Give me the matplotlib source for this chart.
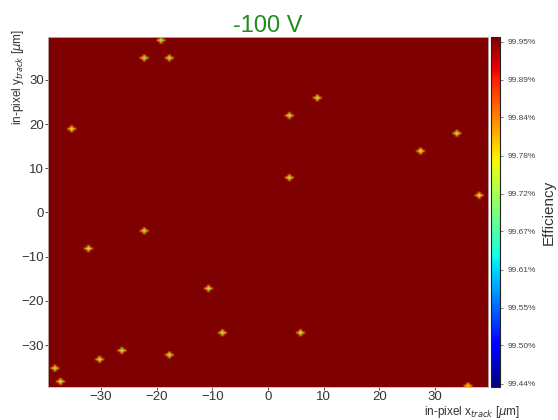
import numpy as np
import matplotlib
matplotlib.use("Agg")
import matplotlib.pyplot as plt

plt.rcParams['font.family'] = ['Liberation Sans', 'DejaVu Sans']

# ---- data ----
title = "-100 V"
x_range = [-40.0, 40.0]
y_range = [-40.0, 40.0]
bin_size = 0.5
base_eff = 100.0
# low-efficiency spots (centre position in um, centre efficiency, rim efficiency in %)
spot_x = [-19.5, -22.4, -17.6, -35.5, 8.6, 3.6, 33.5, 27.4, 3.6, 37.5,
          -22.4, -32.4, -10.6, -8.4, 5.6, -26.5, -30.5, -17.6, -38.5, -37.5, 35.5]
spot_y = [38.6, 34.8, 34.8, 18.7, 25.7, 21.7, 17.6, 13.5, 7.7, 3.6,
          -4.3, -8.4, -17.4, -27.3, -27.3, -31.4, -33.4, -32.3, -35.4, -38.4, -39.4]
spot_center_eff = [99.68, 99.68, 99.69, 99.74, 99.69, 99.68, 99.69, 99.74, 99.69, 99.74,
                   99.68, 99.69, 99.70, 99.69, 99.70, 99.70, 99.70, 99.69, 99.70, 99.70, 99.80]
spot_rim_eff = [99.83] * len(spot_x)
cbar_ticks = [99.44, 99.497, 99.553, 99.61, 99.667, 99.723, 99.78, 99.837, 99.893, 99.95]
cbar_labels = ["99.44%", "99.50%", "99.55%", "99.61%", "99.67%", "99.72%",
               "99.78%", "99.84%", "99.89%", "99.95%"]
vmin, vmax = 99.435, 99.957

# ---- build map ----
nx = int(round((x_range[1] - x_range[0]) / bin_size))
ny = int(round((y_range[1] - y_range[0]) / bin_size))
grid = np.full((ny, nx), base_eff)
for sx, sy, ce, re in zip(spot_x, spot_y, spot_center_eff, spot_rim_eff):
    ix = int((sx - x_range[0]) / bin_size)
    iy = int((sy - y_range[0]) / bin_size)
    for dx, dy in [(1, 0), (-1, 0), (0, 1), (0, -1)]:
        jx, jy = ix + dx, iy + dy
        if 0 <= jx < nx and 0 <= jy < ny:
            grid[jy, jx] = min(grid[jy, jx], re)
    if 0 <= ix < nx and 0 <= iy < ny:
        grid[iy, ix] = ce

fig = plt.figure(figsize=(5.58, 4.20), dpi=100)
ax = fig.add_axes([0.086, 0.0786, 0.7886, 0.8334])
im = ax.imshow(grid, origin='lower', cmap='jet', vmin=vmin, vmax=vmax,
               extent=[x_range[0], x_range[1], y_range[0], y_range[1]],
               aspect='auto', interpolation='bilinear')
ax.set_xlim(x_range[0] + 0.5, x_range[1] - 0.5)
ax.set_ylim(y_range[0] + 0.5, y_range[1] - 0.3)
ax.set_xticks([-30, -20, -10, 0, 10, 20, 30])
ax.set_yticks([-30, -20, -10, 0, 10, 20, 30])
ax.set_xticklabels(["\u221230", "\u221220", "\u221210", "0", "10", "20", "30"])
ax.set_yticklabels(["\u221230", "\u221220", "\u221210", "0", "10", "20", "30"])
ax.tick_params(labelsize=9.5, length=2, width=0.6, pad=1.0,
               colors='#333333', labelcolor='#333333')
for s in ax.spines.values():
    s.set_color('#bbbbbb')
    s.set_linewidth(0.6)

ax.set_title(title, color='#1e8c1e', fontsize=17, pad=3)

fig.text(0.932, 0.0, r"in-pixel x$_{track}$ [$\mu$m]", ha='right', va='bottom',
         fontsize=8.5, color='#333333')
fig.text(0.018, 0.93, r"in-pixel y$_{track}$ [$\mu$m]", ha='left', va='top',
         rotation=90, fontsize=8.5, color='#333333')

cax = fig.add_axes([0.8795, 0.0786, 0.0165, 0.8334])
cb = fig.colorbar(im, cax=cax)
cb.set_ticks(cbar_ticks)
cb.set_ticklabels(cbar_labels)
cb.ax.tick_params(labelsize=6, length=2, width=0.5, colors='#444444')
cb.outline.set_linewidth(0.8)
cb.outline.set_edgecolor('#222222')
cb.set_label("Efficiency", fontsize=11, color='#333333', labelpad=4)

fig.savefig("out.png", dpi=100)
